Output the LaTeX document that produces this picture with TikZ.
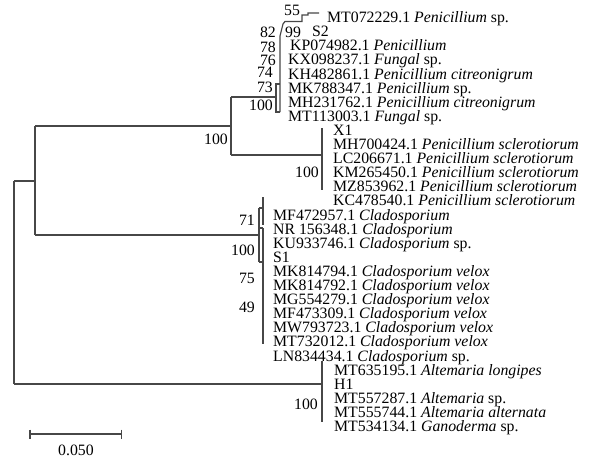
\documentclass[tikz,border=0pt]{standalone}
\usepackage{fontspec}
\setmainfont{Liberation Serif}
\begin{document}
\begin{tikzpicture}[x=1pt,y=-1pt,
  br/.style={draw=black!72, line width=1.2pt},
  taxon/.style={anchor=base west, inner sep=0pt, font=\fontsize{15.8}{16}\selectfont},
  bsl/.style={anchor=base east, inner sep=0pt, font=\fontsize{15.8}{16}\selectfont},
  bsr/.style={anchor=base west, inner sep=0pt, font=\fontsize{15.8}{16}\selectfont}]
\useasboundingbox (0,0) rectangle (590,459);
% taxa
\foreach \i/\x/\t in {
 0/327/{MT072229.1 \textit{Penicillium} sp.},
 1/312/{S2},
 2/290/{KP074982.1 \textit{Penicillium}},
 3/288/{KX098237.1 \textit{Fungal} sp.},
 4/288/{KH482861.1 \textit{Penicillium citreonigrum}},
 5/288/{MK788347.1 \textit{Penicillium} sp.},
 6/288/{MH231762.1 \textit{Penicillium citreonigrum}},
 7/288/{MT113003.1 \textit{Fungal} sp.},
 8/333/{X1},
 9/333/{MH700424.1 \textit{Penicillium sclerotiorum}},
 10/333/{LC206671.1 \textit{Penicillium sclerotiorum}},
 11/333/{KM265450.1 \textit{Penicillium sclerotiorum}},
 12/333/{MZ853962.1 \textit{Penicillium sclerotiorum}},
 13/333/{KC478540.1 \textit{Penicillium sclerotiorum}},
 14/273/{MF472957.1 \textit{Cladosporium}},
 15/273/{NR 156348.1 \textit{Cladosporium}},
 16/273/{KU933746.1 \textit{Cladosporium} sp.},
 17/273/{S1},
 18/273/{MK814794.1 \textit{Cladosporium velox}},
 19/273/{MK814792.1 \textit{Cladosporium velox}},
 20/273/{MG554279.1 \textit{Cladosporium velox}},
 21/273/{MF473309.1 \textit{Cladosporium velox}},
 22/273/{MW793723.1 \textit{Cladosporium velox}},
 23/273/{MT732012.1 \textit{Cladosporium velox}},
 24/273/{LN834434.1 \textit{Cladosporium} sp.},
 25/334/{MT635195.1 \textit{Altemaria longipes}},
 26/334/{H1},
 27/334/{MT557287.1 \textit{Altemaria} sp.},
 28/334/{MT555744.1 \textit{Altemaria alternata}},
 29/334/{MT534134.1 \textit{Ganoderma} sp.}}
 \node[taxon] (t\i) at (\x,{22.6+14.1*\i}) {\t};
% coordinates of tree nodes
\coordinate (root) at (14,181);
\coordinate (rootb) at (14,384);
\coordinate (A) at (35,181);
\coordinate (Atop) at (35,126);
\coordinate (Abot) at (35,235);
\coordinate (P) at (231,126);
\coordinate (Ptop) at (231,97);
\coordinate (Pbot) at (231,155);
\coordinate (Xn) at (322,155);
\coordinate (Cn) at (259,235);
\coordinate (Hn) at (322,384);
% root
\draw[br] (root) -- (rootb);
\draw[br] (root) -- (A);
\draw[br] (Atop) -- (Abot);
\draw[br] (Atop) -- (P);
\draw[br] (Ptop) -- (Pbot);
\draw[br] (Pbot) -- (Xn);
\draw[br] (322,128) -- (322,190);
\draw[br] (Abot) -- (Cn);
\draw[br] (rootb) -- (Hn);
\draw[br] (322,361) -- (322,422);
% Penicillium citreonigrum ladder
\draw[br] (Ptop) -- (276,97);
\draw[br] (280,112) -- (276,112) -- (276,84) -- (280,84);
\draw[br] (280,112) -- (280,36) -- (283,24) -- (285,21.5) -- (302,21.5) -- (302,15) -- (308,15) -- (308,13) -- (319,13);
% Cladosporium
\draw[br] (259,208) -- (259,262);
\draw[br] (263,197) -- (263,225);
\draw[br] (259,208) -- (263,208);
\draw[br] (259,228) -- (263,228);
\draw[br] (263,228) -- (263,344);
\draw[br] (259,262) -- (263,262);
% bootstrap values
\node[bsr] (b55) at (284,15.1) {55};
\node[bsl] (b82) at (276,37) {82};
\node[bsr] (b99) at (285,37) {99};
\node[bsl] (b78) at (276,52) {78};
\node[bsl] (b76) at (276,65) {76};
\node[bsl] (b74) at (273,77) {74};
\node[bsl] (b73) at (273,92) {73};
\node[bsl] (b100a) at (273,110) {100};
\node[bsl] (b100p) at (228,144) {100};
\node[bsl] (b100x) at (319,177) {100};
\node[bsl] (b71) at (255,225) {71};
\node[bsl] (b100c) at (255,255) {100};
\node[bsl] (b75) at (255,283) {75};
\node[bsl] (b49) at (255,312) {49};
\node[bsl] (b100h) at (318,409) {100};
% scale bar
\coordinate (s1) at (30,434);
\coordinate (s2) at (121.5,434);
\draw[br] (s1) -- (s2);
\draw[br] (30,429.5) -- (30,438.5);
\draw[br] (121.5,429.5) -- (121.5,438.5);
\node[anchor=base, inner sep=0pt, font=\fontsize{15.8}{16}\selectfont] (sl) at (76,455) {0.050};
\end{tikzpicture}
\end{document}
